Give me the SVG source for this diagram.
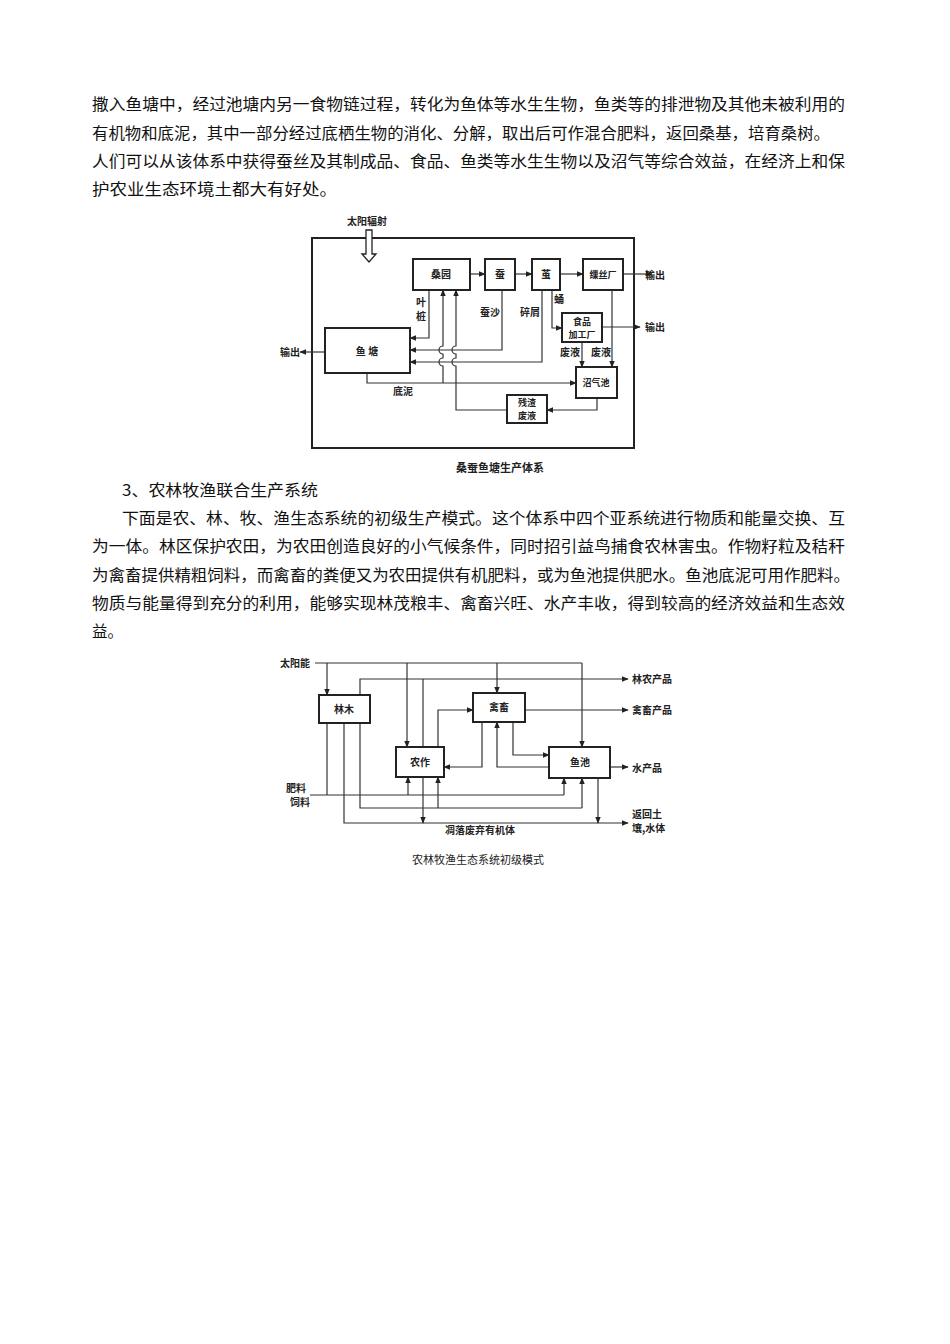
<svg xmlns="http://www.w3.org/2000/svg" width="950" height="1344" viewBox="0 0 950 1344">
<defs>
<marker id="a" viewBox="0 0 10 10" refX="9" refY="5" markerWidth="6" markerHeight="6" orient="auto"><path d="M0,1 L10,5 L0,9 Z" fill="#222"/></marker>
</defs>
<style>
.p{font-family:"Noto Sans CJK SC",sans-serif;font-size:15.5px;fill:#111}
.t{font-family:"Noto Sans CJK SC",sans-serif;font-size:10px;fill:#222;font-weight:bold}
.s{font-family:"Noto Sans CJK SC",sans-serif;font-size:9px;fill:#222;font-weight:bold}
.c{font-family:"Noto Sans CJK SC",sans-serif;font-size:11px;fill:#222}
.b{fill:#fff;stroke:#222;stroke-width:2}
.l{fill:none;stroke:#333;stroke-width:1.2}
.la{fill:none;stroke:#333;stroke-width:1.2;marker-end:url(#a)}
</style>
<rect width="950" height="1344" fill="#fff"/>
<g id="text">
<text class="p" x="92" y="110" textLength="753" lengthAdjust="spacingAndGlyphs">撒入鱼塘中，经过池塘内另一食物链过程，转化为鱼体等水生生物，鱼类等的排泄物及其他未被利用的</text>
<text class="p" x="92" y="139" textLength="738" lengthAdjust="spacingAndGlyphs">有机物和底泥，其中一部分经过底栖生物的消化、分解，取出后可作混合肥料，返回桑基，培育桑树。</text>
<text class="p" x="92" y="167" textLength="753" lengthAdjust="spacingAndGlyphs">人们可以从该体系中获得蚕丝及其制成品、食品、鱼类等水生生物以及沼气等综合效益，在经济上和保</text>
<text class="p" x="92" y="195" textLength="245" lengthAdjust="spacingAndGlyphs">护农业生态环境土都大有好处。</text>
<text class="p" x="122" y="496" textLength="196" lengthAdjust="spacingAndGlyphs">3、农林牧渔联合生产系统</text>
<text class="p" x="122" y="524" textLength="723" lengthAdjust="spacingAndGlyphs">下面是农、林、牧、渔生态系统的初级生产模式。这个体系中四个亚系统进行物质和能量交换、互</text>
<text class="p" x="92" y="552" textLength="753" lengthAdjust="spacingAndGlyphs">为一体。林区保护农田，为农田创造良好的小气候条件，同时招引益鸟捕食农林害虫。作物籽粒及秸秆</text>
<text class="p" x="92" y="581" textLength="758" lengthAdjust="spacingAndGlyphs">为禽畜提供精粗饲料，而禽畜的粪便又为农田提供有机肥料，或为鱼池提供肥水。鱼池底泥可用作肥料。</text>
<text class="p" x="92" y="609" textLength="753" lengthAdjust="spacingAndGlyphs">物质与能量得到充分的利用，能够实现林茂粮丰、禽畜兴旺、水产丰收，得到较高的经济效益和生态效</text>
<text class="p" x="92" y="637" textLength="31" lengthAdjust="spacingAndGlyphs">益。</text>
</g>
<g id="d1-frame"><rect x="312" y="238" width="322" height="210" fill="none" stroke="#222" stroke-width="2"/></g>
<g id="d1-sun"><text class="t" x="347" y="225">太阳辐射</text><path d="M366,230 V254 H362 L369,262 L376,254 H372 V230 Z" fill="#fff" stroke="#222" stroke-width="1.3"/></g>
<g id="d1-connectors">
<path class="la" d="M470,274 H485"/><path class="la" d="M515,274 H532"/><path class="la" d="M560,274 H583"/>
<path class="la" d="M623,274 H652"/>
<path class="la" d="M602,327 H640"/>
<path class="la" d="M325,352 H300"/>
<path class="la" d="M429,290 V338 H410"/>
<path class="la" d="M502,290 V350 H410"/>
<path class="la" d="M542,290 V362 H410"/>
<path class="la" d="M552,290 V328 H562"/>
<path class="la" d="M443,383 V366 a4,4 0 0 1 0,-8 V354 a4,4 0 0 1 0,-8 V290"/>
<path class="la" d="M507,410 H456 V366 a4,4 0 0 1 0,-8 V354 a4,4 0 0 1 0,-8 V290"/>
<path class="la" d="M367,373 V383 H576"/>
<path class="la" d="M582,342 V367"/>
<path class="la" d="M612,290 V367"/>
<path class="la" d="M597,398 V410 H547"/>
</g>
<g id="sangyuan"><rect class="b" x="413" y="259" width="57" height="31"/><text class="t" x="441" y="278" text-anchor="middle">桑园</text></g>
<g id="can"><rect class="b" x="485" y="259" width="30" height="31"/><text class="t" x="500" y="278" text-anchor="middle">蚕</text></g>
<g id="jian"><rect class="b" x="532" y="259" width="28" height="31"/><text class="t" x="546" y="278" text-anchor="middle">茧</text></g>
<g id="saosi"><rect class="b" x="583" y="259" width="40" height="31"/><text class="s" x="603" y="278" text-anchor="middle">缫丝厂</text></g>
<g id="yutang"><rect class="b" x="325" y="328" width="85" height="45"/><text class="t" x="367" y="355" text-anchor="middle">鱼  塘</text></g>
<g id="shipin"><rect class="b" x="562" y="313" width="40" height="29"/><text class="s" x="582" y="325" text-anchor="middle">食品</text><text class="s" x="582" y="338" text-anchor="middle">加工厂</text></g>
<g id="zhaoqi"><rect class="b" x="576" y="367" width="41" height="31"/><text class="s" x="596" y="386" text-anchor="middle">沼气池</text></g>
<g id="canzha"><rect class="b" x="507" y="395" width="40" height="28"/><text class="s" x="527" y="406" text-anchor="middle">残渣</text><text class="s" x="527" y="419" text-anchor="middle">废液</text></g>
<g id="d1-labels">
<text class="t" x="645" y="279">输出</text><text class="t" x="645" y="331">输出</text><text class="t" x="280" y="356">输出</text>
<text class="t" x="421" y="306" text-anchor="middle">叶</text><text class="t" x="421" y="320" text-anchor="middle">桩</text>
<text class="t" x="490" y="316" text-anchor="middle">蚕沙</text><text class="t" x="530" y="316" text-anchor="middle">碎屑</text>
<text class="t" x="559" y="303" text-anchor="middle">蛹</text>
<text class="t" x="570" y="356" text-anchor="middle">废液</text><text class="t" x="601" y="356" text-anchor="middle">废液</text>
<text class="t" x="403" y="395" text-anchor="middle">底泥</text>
<text class="c" x="500" y="472" text-anchor="middle" font-weight="bold">桑蚕鱼塘生产体系</text>
</g>
<g id="d2-connectors">
<path class="l" d="M315,663 H582"/>
<path class="la" d="M582,663 V747"/>
<path class="la" d="M327,663 V695"/>
<path class="la" d="M407,663 V747"/>
<path class="la" d="M497,663 V693"/>
<path class="la" d="M360,695 V679 H628"/>
<path class="l" d="M423,747 V679"/>
<path class="la" d="M525,710 H628"/>
<path class="la" d="M438,747 V710 H473"/>
<path class="la" d="M482,722 V767 H444"/>
<path class="la" d="M513,722 V755 H549"/>
<path class="la" d="M549,767 H497 V722"/>
<path class="la" d="M610,767 H628"/>
<path class="l" d="M310,795 H564"/>
<path class="la" d="M564,795 V778"/>
<path class="la" d="M408,795 V777"/>
<path class="l" d="M327,723 V795"/>
<path class="l" d="M360,723 V808 H582"/>
<path class="la" d="M582,808 V778"/>
<path class="la" d="M438,808 V777"/>
<path class="la" d="M344,723 V823 H628"/>
<path class="la" d="M423,777 V823"/>
<path class="la" d="M598,778 V823"/>
</g>
<g id="linmu"><rect class="b" x="319" y="695" width="51" height="28"/><text class="t" x="344" y="713" text-anchor="middle">林木</text></g>
<g id="qinxu"><rect class="b" x="473" y="693" width="52" height="29"/><text class="t" x="499" y="711" text-anchor="middle">禽畜</text></g>
<g id="nongzuo"><rect class="b" x="396" y="747" width="48" height="30"/><text class="t" x="420" y="766" text-anchor="middle">农作</text></g>
<g id="yuchi"><rect class="b" x="549" y="747" width="61" height="31"/><text class="t" x="580" y="766" text-anchor="middle">鱼池</text></g>
<g id="d2-labels">
<text class="t" x="280" y="667">太阳能</text>
<text class="t" x="632" y="683">林农产品</text>
<text class="t" x="632" y="714">禽畜产品</text>
<text class="t" x="632" y="772">水产品</text>
<text class="t" x="286" y="792">肥料</text><text class="t" x="290" y="806">饲料</text>
<text class="t" x="632" y="818">返回土</text><text class="t" x="632" y="832">壤,水体</text>
<text class="t" x="480" y="834" text-anchor="middle">凋落废弃有机体</text>
<text class="c" x="478" y="864" text-anchor="middle">农林牧渔生态系统初级模式</text>
</g>
</svg>
